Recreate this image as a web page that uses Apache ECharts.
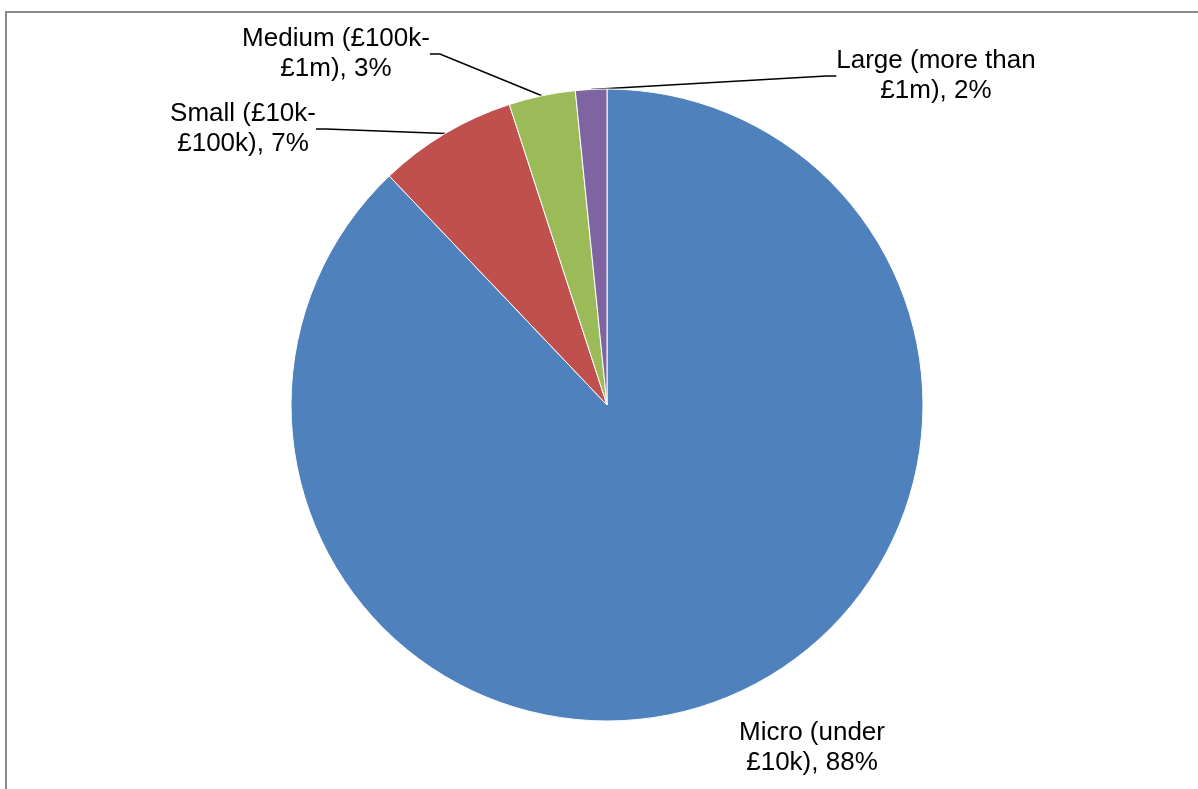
<!DOCTYPE html>
<html>
<head>
<meta charset="utf-8">
<script src="https://cdn.jsdelivr.net/npm/echarts@6/dist/echarts.min.js"></script>
<style>
html,body{margin:0;padding:0;background:#fff;}
#chart{width:1198px;height:789px;}
</style>
</head>
<body>
<div id="chart"></div>
<script>
// Data
const categories = ['Micro (under\n£10k)', 'Small (£10k-\n£100k)', 'Medium (£100k-\n£1m)', 'Large (more than\n£1m)'];
const values = [87.9, 7.1, 3.4, 1.6];
const colors = ['#4F81BD', '#C0504D', '#9BBB59', '#8064A2'];

// Label layout (centers of label text blocks)
const labelCenters = [[812, 748], [243, 129], [336, 54], [936, 76]];
const showLines = [false, true, true, true];

const chart = echarts.init(document.getElementById('chart'));
chart.setOption({
  animation: false,
  backgroundColor: '#fff',
  graphic: [{
    type: 'rect',
    shape: {x: 6, y: 12, width: 1400, height: 1000},
    style: {fill: 'none', stroke: '#8a8a8a', lineWidth: 2},
    silent: true
  }],
  series: [{
    type: 'pie',
    center: [607, 405],
    radius: 316,
    startAngle: 90,
    clockwise: true,
    data: categories.map((c, i) => ({
      name: c,
      value: values[i],
      itemStyle: {color: colors[i]},
      labelLine: {show: showLines[i]}
    })),
    itemStyle: {borderColor: '#fff', borderWidth: 1},
    label: {
      show: true,
      position: 'outside',
      formatter: p => p.name + ', ' + Math.round(p.percent) + '%',
      color: '#000',
      fontFamily: 'Liberation Sans, Arial, sans-serif',
      fontSize: 26,
      lineHeight: 30,
      align: 'center'
    },
    labelLine: {
      show: true,
      length: 20,
      length2: 10,
      smooth: false,
      lineStyle: {color: '#000', width: 1.5}
    },
    labelLayout: params => {
      const c = labelCenters[params.dataIndex];
      return {x: c[0], y: c[1], align: 'center', verticalAlign: 'middle'};
    }
  }]
});
</script>
</body>
</html>
